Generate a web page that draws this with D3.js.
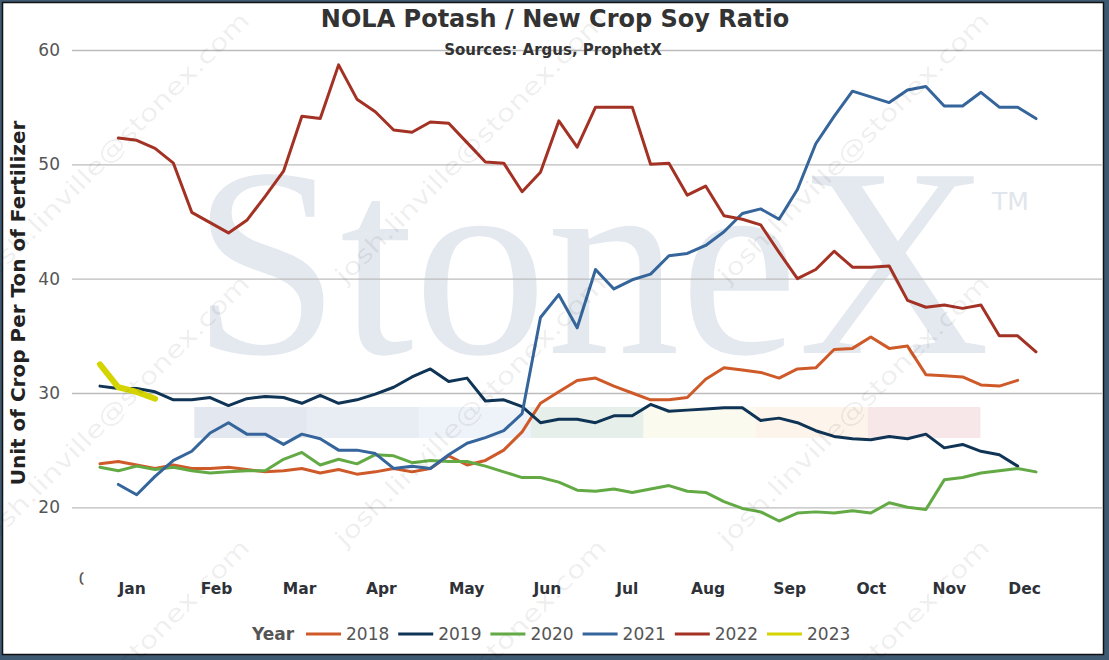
<!DOCTYPE html>
<html lang="en">
<head>
  <meta charset="UTF-8">
  <title>NOLA Potash / New Crop Soy Ratio</title>
  <style>
    html, body {
      margin: 0;
      padding: 0;
      background: #3e5a73;
    }
    svg {
      display: block;
      font-family: "DejaVu Sans", Verdana, sans-serif;
    }
  </style>
</head>
<body>
  <svg id="chart" width="1109" height="660"></svg>

  <script src="https://cdn.jsdelivr.net/npm/d3@7"></script>
  <script>
    // weekly ratio, week 0..51 (null = no value)
    const months = ['Jan', 'Feb', 'Mar', 'Apr', 'May', 'Jun', 'Jul', 'Aug', 'Sep', 'Oct', 'Nov', 'Dec'];
    // where each month label sits, in weeks
    const monthWeeks = [1.72, 6.32, 10.85, 15.3, 19.95, 24.35, 28.7, 33.1, 37.55, 42.0, 46.25, 50.35];
    const years = ['2018', '2019', '2020', '2021', '2022', '2023'];
    const yTicks = [20, 30, 40, 50, 60];

    const y2018 = [23.8, 24.0, 23.7, 23.4, 23.7, 23.4, 23.4, 23.5, 23.3, 23.1, 23.2, 23.4, 23.0,
      23.3, 22.9, 23.1, 23.4, 23.1, 23.4, 24.5, 23.7, 24.1, 25.0, 26.6, 29.1, 30.1, 31.1, 31.3,
      30.6, 30.0, 29.4, 29.4, 29.6, 31.2, 32.2, 32.0, 31.8, 31.3, 32.1, 32.2, 33.8, 33.9, 34.9,
      33.9, 34.1, 31.6, 31.5, 31.4, 30.7, 30.6, 31.1];
    const y2019 = [30.6, 30.4, 30.4, 30.1, 29.4, 29.4, 29.6, 28.9, 29.5, 29.7, 29.6, 29.1, 29.8,
      29.1, 29.4, 29.9, 30.5, 31.4, 32.1, 31.0, 31.3, 29.3, 29.4, 28.8, 27.4, 27.7, 27.7, 27.4,
      28.0, 28.0, 29.0, 28.4, 28.5, 28.6, 28.7, 28.7, 27.6, 27.8, 27.4, 26.7, 26.2, 26.0, 25.9,
      26.2, 26.0, 26.4, 25.2, 25.5, 24.9, 24.6, 23.6];
    const y2020 = [23.5, 23.2, 23.6, 23.3, 23.5, 23.2, 23.0, 23.1, 23.2, 23.2, 24.2, 24.8, 23.7,
      24.2, 23.8, 24.6, 24.5, 23.9, 24.1, 24.0, 24.0, 23.6, 23.1, 22.6, 22.6, 22.2, 21.5, 21.4,
      21.6, 21.3, 21.6, 21.9, 21.4, 21.3, 20.5, 19.9, 19.6, 18.8, 19.5, 19.6, 19.5, 19.7, 19.5,
      20.4, 20.0, 19.8, 22.4, 22.6, 23.0, 23.2, 23.4, 23.1];
    const y2021 = [null, 22.0, 21.1, 22.7, 24.1, 24.9, 26.5, 27.4, 26.4, 26.4, 25.5, 26.4, 26.0,
      25.0, 25.0, 24.7, 23.4, 23.6, 23.4, 24.6, 25.6, 26.1, 26.7, 28.2, 36.6, 38.6, 35.7, 40.8,
      39.1, 39.9, 40.4, 42.0, 42.2, 42.9, 44.1, 45.7, 46.1, 45.2, 47.8, 51.8, 54.2, 56.4, 55.9,
      55.4, 56.5, 56.8, 55.1, 55.1, 56.3, 55.0, 55.0, 54.0];
    const y2022 = [null, 52.3, 52.1, 51.4, 50.1, 45.8, 44.9, 44.0, 45.1, 47.2, 49.4, 54.2, 54.0,
      58.7, 55.7, 54.6, 53.0, 52.8, 53.7, 53.6, 51.9, 50.2, 50.1, 47.6, 49.3, 53.8, 51.5, 55.0,
      55.0, 55.0, 50.0, 50.1, 47.3, 48.1, 45.5, 45.2, 44.7, 42.3, 40.0, 40.8, 42.4, 41.0, 41.0,
      41.1, 38.1, 37.5, 37.7, 37.4, 37.7, 35.0, 35.0, 33.6];
    const y2023 = [32.5, 30.5, 30.1, 29.5];

    const seriesValues = [y2018, y2019, y2020, y2021, y2022, y2023];
    const colors = ['#cf5a29', '#0f3456', '#63aa45', '#35659b', '#a33224', '#d4d400'];
    const widths = [3, 3, 3, 3, 3, 6];

    const svg = d3.select('#chart');
    const W = 1109, H = 660;

    // frame
    svg.append('rect').attr('width', W).attr('height', H).attr('fill', '#3e5a73');
    svg.append('rect')
      .attr('x', 2.5).attr('y', 2.5)
      .attr('width', 1101).attr('height', 652)
      .attr('fill', '#fff')
      .attr('stroke', '#111')
      .attr('stroke-width', 1.5);

    const x = d3.scaleLinear().domain([0, 51]).range([100, 1036]);
    const y = d3.scaleLinear().domain([20, 60]).range([507.3, 50]);

    // StoneX watermark
    svg.append('text')
      .attr('x', 192).attr('y', 353)
      .attr('textLength', 798)
      .attr('lengthAdjust', 'spacingAndGlyphs')
      .style('font-family', '"Liberation Serif", "DejaVu Serif", serif')
      .style('font-size', '270px')
      .attr('fill', '#e4e8ef')
      .text('StoneX');
    svg.append('text')
      .attr('x', 992).attr('y', 210)
      .style('font-size', '25px')
      .attr('fill', '#e1e5ec')
      .text('TM');

    const bandColors = ['#e3e7ef', '#e8ecf3', '#eef3f9', '#e7efea', '#fafaef', '#fdf5eb', '#f7e7e8'];
    svg.append('g').selectAll('rect')
      .data(bandColors)
      .join('rect')
      .attr('x', (d, i) => 194.3 + i * 112.25)
      .attr('y', 407)
      .attr('width', 112.6)
      .attr('height', 31)
      .attr('fill', d => d);

    // y axis with gridlines
    const yAxis = svg.append('g')
      .attr('transform', 'translate(72,0)')
      .call(d3.axisLeft(y).tickValues(yTicks).tickSize(-1030).tickPadding(12));
    yAxis.select('.domain').remove();
    yAxis.selectAll('line').attr('stroke', '#bcbcbc').attr('stroke-width', 1.3);
    yAxis.selectAll('text')
      .attr('fill', '#555')
      .style('font-size', '17px')
      .style('font-family', '"DejaVu Sans", Verdana, sans-serif');

    // clipped stray "0" label
    svg.append('clipPath').attr('id', 'zclip')
      .append('rect').attr('x', 77).attr('y', 560).attr('width', 6.5).attr('height', 40);
    svg.append('text')
      .attr('x', 78.5).attr('y', 585)
      .attr('clip-path', 'url(#zclip)')
      .attr('fill', '#555')
      .style('font-size', '17px')
      .text('0');

    // month axis
    const xAxis = svg.append('g')
      .attr('transform', 'translate(0,594)')
      .call(d3.axisBottom(x).tickValues(monthWeeks).tickFormat((d, i) => months[i]).tickSize(0));
    xAxis.select('.domain').remove();
    xAxis.selectAll('text')
      .attr('y', 0).attr('dy', 0)
      .attr('fill', '#2e3238')
      .style('font-size', '15.5px')
      .style('font-weight', 'bold')
      .style('font-family', '"DejaVu Sans", Verdana, sans-serif');

    // lines
    const line = d3.line()
      .defined(d => d != null)
      .x((d, i) => x(i))
      .y(d => y(d));

    svg.append('g').selectAll('path')
      .data(seriesValues)
      .join('path')
      .attr('d', d => line(d))
      .attr('fill', 'none')
      .attr('stroke', (d, i) => colors[i])
      .attr('stroke-width', (d, i) => widths[i])
      .attr('stroke-linejoin', 'round')
      .attr('stroke-linecap', 'round');

    // email watermark
    const wmCols = [-12, 345, 728];
    const wmRows = [285, 548, 812];
    const wm = svg.append('g').attr('fill', '#000').attr('fill-opacity', 0.075);
    wmCols.forEach(cx => wmRows.forEach(cy => {
      wm.append('text')
        .attr('transform', `translate(${cx},${cy}) rotate(-45)`)
        .attr('textLength', 372)
        .attr('lengthAdjust', 'spacingAndGlyphs')
        .style('font-size', '24px')
        .text('josh.linville@stonex.com');
    }));

    // titles
    svg.append('text')
      .attr('x', 555).attr('y', 27)
      .attr('text-anchor', 'middle')
      .attr('fill', '#333')
      .style('font-size', '24px')
      .style('font-weight', 'bold')
      .text('NOLA Potash / New Crop Soy Ratio');
    svg.append('text')
      .attr('x', 553).attr('y', 55)
      .attr('text-anchor', 'middle')
      .attr('fill', '#333')
      .style('font-size', '15px')
      .style('font-weight', 'bold')
      .text('Sources: Argus, ProphetX');
    svg.append('text')
      .attr('transform', 'translate(25,303) rotate(-90)')
      .attr('text-anchor', 'middle')
      .attr('fill', '#222')
      .style('font-size', '20px')
      .style('font-weight', 'bold')
      .text('Unit of Crop Per Ton of Fertilizer');

    // legend
    const legend = svg.append('g').attr('transform', 'translate(0,640)');
    legend.append('text')
      .attr('x', 252).attr('y', 0)
      .attr('fill', '#555')
      .style('font-size', '17px')
      .style('font-weight', 'bold')
      .text('Year');
    const items = legend.selectAll('g.item')
      .data(years)
      .join('g')
      .attr('class', 'item')
      .attr('transform', (d, i) => `translate(${306 + i * 92.2},0)`);
    items.append('line')
      .attr('x1', 0).attr('x2', 35)
      .attr('y1', -6).attr('y2', -6)
      .attr('stroke', (d, i) => colors[i])
      .attr('stroke-width', 3);
    items.append('text')
      .attr('x', 40).attr('y', 0)
      .attr('fill', '#555')
      .style('font-size', '17px')
      .text(d => d);
  </script>
</body>
</html>
